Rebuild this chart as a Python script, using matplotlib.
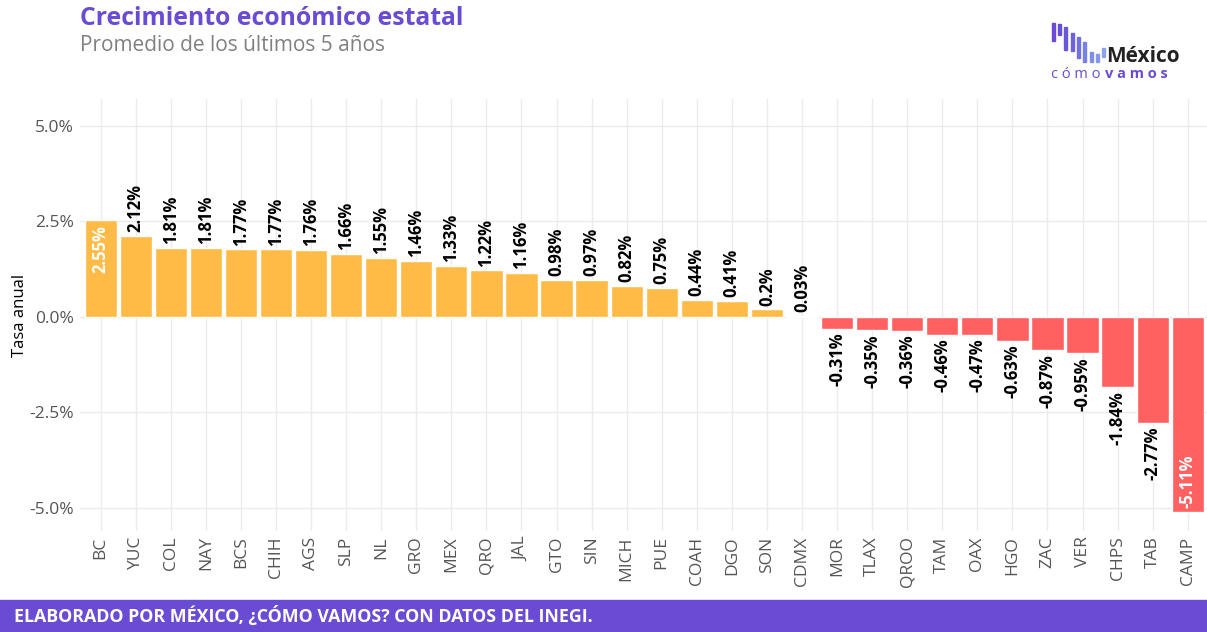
import matplotlib
matplotlib.use("Agg")
import matplotlib.pyplot as plt
from matplotlib.patches import Rectangle

estados = ["BC", "YUC", "COL", "NAY", "BCS", "CHIH", "AGS", "SLP", "NL", "GRO",
           "MEX", "QRO", "JAL", "GTO", "SIN", "MICH", "PUE", "COAH", "DGO", "SON",
           "CDMX", "MOR", "TLAX", "QROO", "TAM", "OAX", "HGO", "ZAC", "VER", "CHPS",
           "TAB", "CAMP"]
tasa = [2.55, 2.12, 1.81, 1.81, 1.77, 1.77, 1.76, 1.66, 1.55, 1.46,
        1.33, 1.22, 1.16, 0.98, 0.97, 0.82, 0.75, 0.44, 0.41, 0.2,
        0.03, -0.31, -0.35, -0.36, -0.46, -0.47, -0.63, -0.87, -0.95, -1.84,
        -2.77, -5.11]
yticks = [-5.0, -2.5, 0.0, 2.5, 5.0]

morado = "#6A4BD4"
naranja = "#FFBB45"
rojo = "#FF6161"

plt.rcParams["font.family"] = ["Open Sans", "DejaVu Sans"]

fig = plt.figure(figsize=(12.07, 6.32), dpi=100)
ax = fig.add_axes([0.066, 0.160, 0.934, 0.683])

x = list(range(len(estados)))
colores = [naranja if v >= 0 else rojo for v in tasa]
ax.bar(x, tasa, width=0.92, color=colores, edgecolor="white", linewidth=1, zorder=2)

# etiquetas de valores
for i, v in enumerate(tasa):
    txt = f"{v:g}%"
    if i == 0:
        ax.text(i, v - 0.15, txt, rotation=90, ha="center", va="top",
                color="white", fontsize=12, fontweight="bold", zorder=3)
    elif i == len(tasa) - 1:
        ax.text(i, v + 0.12, txt, rotation=90, ha="center", va="bottom",
                color="white", fontsize=12, fontweight="bold", zorder=3)
    elif v >= 0:
        ax.text(i, v + 0.1, txt, rotation=90, ha="center", va="bottom",
                color="black", fontsize=12, fontweight="bold", zorder=3)
    else:
        ax.text(i, v - 0.1, txt, rotation=90, ha="center", va="top",
                color="black", fontsize=12, fontweight="bold", zorder=3)

ax.set_xlim(-0.6, len(estados) - 0.45)
ax.set_ylim(-5.6, 5.7)
ax.set_xticks(x)
ax.set_xticklabels(estados, rotation=90, color="#555555", fontsize=12.5)
ax.set_yticks(yticks)
ax.set_yticklabels([f"{t:.1f}%" for t in yticks], color="#555555", fontsize=12.5)
ax.tick_params(length=0, pad=4)
ax.grid(True, color="#EBEBEB", linewidth=1, zorder=0)
ax.set_axisbelow(True)
for s in ax.spines.values():
    s.set_visible(False)
ax.set_ylabel("Tasa anual", fontsize=12, color="black", labelpad=1)

# titulos
fig.text(0.066, 0.970, "Crecimiento económico estatal", color=morado,
         fontsize=17.8, fontweight="bold", va="center")
fig.text(0.066, 0.928, "Promedio de los últimos 5 años", color="#808080",
         fontsize=15, va="center")

# pie
fig.patches.append(Rectangle((0, 0), 1, 0.05, transform=fig.transFigure,
                             color=morado, zorder=0))
fig.text(0.012, 0.025, "ELABORADO POR MÉXICO, ¿CÓMO VAMOS? CON DATOS DEL INEGI.",
         color="white", fontsize=12.8, fontweight="bold", va="center")

# logo
W, H = 1207, 632
logo_x = [1052, 1058, 1064, 1071, 1077, 1083, 1090, 1096, 1102]
logo_top = [23, 24, 27, 33, 37, 42, 52, 54, 48]
logo_bot = [41, 35, 50, 51, 58, 62, 62, 62, 57]
tonos = ["#6A4BD4", "#6A4FD6", "#6A58DA", "#6C62DD", "#7070E2", "#7780E6",
         "#7E8FE9", "#8599EB", "#8AA3EC"]
for x0, t, b, c in zip(logo_x, logo_top, logo_bot, tonos):
    fig.patches.append(Rectangle((x0 / W, 1 - b / H), 3 / W, (b - t) / H,
                                 transform=fig.transFigure, color=c))
fig.text(1106 / W, 1 - 56 / H, "México", fontsize=15, fontweight="bold",
         color="#222222", va="center", ha="left")
fig.text(1051 / W, 1 - 74 / H, "c ó m o", fontsize=10.5, color=morado,
         va="center", ha="left")
fig.text(1105 / W, 1 - 74 / H, "v a m o s", fontsize=10.5, fontweight="bold",
         color=morado, va="center", ha="left")

fig.savefig("out.png", dpi=100)
